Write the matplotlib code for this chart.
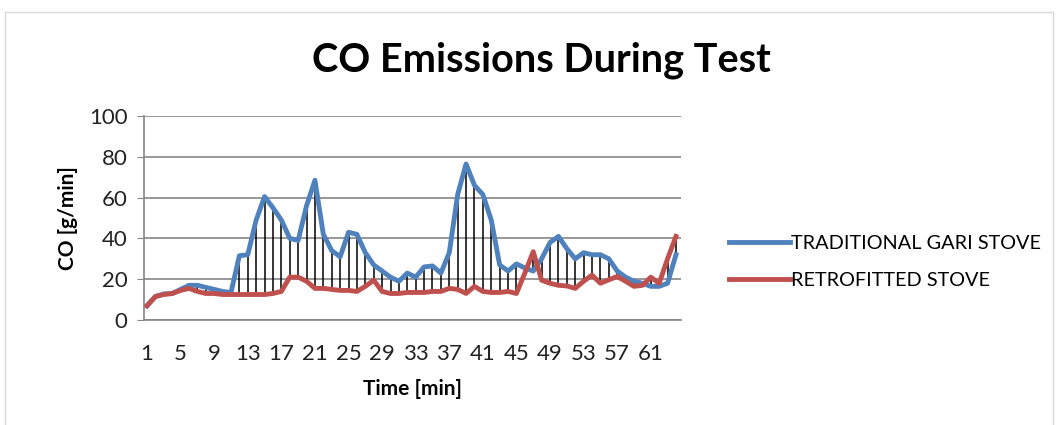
import numpy as np
import matplotlib
matplotlib.use('Agg')
import matplotlib.pyplot as plt
from matplotlib.patches import Rectangle

plt.rcParams['font.family'] = ['Lato', 'DejaVu Sans']

# minutes 1..64
minutos = np.arange(1, 65)

tradicional = [7, 11.5, 12.8, 13, 15, 17, 17, 16, 15, 14, 13.5,
               31.5, 32, 49, 60.5, 55, 49, 40, 39, 56, 68.5,
               42, 34, 31, 43, 42, 33, 27, 24, 21, 19, 23,
               21, 26, 26.5, 23, 33, 61.5, 76.5, 66, 61.5, 49,
               27, 24, 27.5, 25.5, 24, 30, 38, 41,
               35, 30, 33, 32, 32, 30, 24, 21, 19, 18, 16.5, 16.5, 18, 32]

mejorada = [7, 11.5, 12.5, 13, 14.5, 15.5, 14, 13, 13, 12.5, 12.5,
            12.5, 12.5, 12.5, 12.5, 13, 14, 21, 21, 19, 15.5,
            15.5, 15, 14.5, 14.5, 14, 16.5, 19.5, 14, 13, 13, 13.5,
            13.5, 13.5, 14, 14, 15.5, 15, 13, 16.5, 14, 13.5,
            13.5, 14, 13, 23, 33.5, 19.5, 18, 17,
            16.7, 15.5, 19, 22, 18, 19.7, 21.3, 19, 16.5, 17, 21, 18, 30, 41]

etiquetas = ['TRADITIONAL GARI STOVE', 'RETROFITTED STOVE']
titulo = 'CO Emissions During Test'

fig = plt.figure(figsize=(10.59, 4.25), dpi=100)
ax = fig.add_axes([144/1059, 1-320/425, (681-144)/1059, (320-116)/425])

# marco claro alrededor del grafico
fig.patches.append(Rectangle((5/1059, -0.05), 1048/1059, 1.05-12/425,
                             transform=fig.transFigure, fill=False,
                             edgecolor='#d9d9d9', lw=1))

T = np.array(tradicional)
M = np.array(mejorada)
ax.vlines(minutos, np.minimum(T, M), np.maximum(T, M), color='black', lw=1.1, zorder=2)
ax.plot(minutos, T, color='#4F81BD', lw=3.5, label=etiquetas[0], zorder=3, solid_joinstyle='round')
ax.plot(minutos, M, color='#C0504D', lw=3.5, label=etiquetas[1], zorder=3, solid_joinstyle='round')

ax.set_ylim(0, 100)
ax.set_xlim(0.64, 64.6)
ax.set_yticks(range(0, 101, 20))
ax.set_xticks(minutos[::4])
ax.yaxis.grid(True, color='#868686', lw=1.2)
ax.set_axisbelow(True)
for s in ['top', 'right']:
    ax.spines[s].set_visible(False)
ax.spines['left'].set_color('#868686')
ax.spines['bottom'].set_color('#868686')
ax.spines['left'].set_linewidth(1.2)
ax.spines['bottom'].set_linewidth(1.2)
ax.tick_params(axis='y', length=5, color='#868686', labelsize=16, pad=7, labelcolor='#222222')
ax.tick_params(axis='x', length=0, labelsize=16, pad=17, labelcolor='#222222')

ax.set_xlabel('Time [min]', fontsize=15, fontweight='bold', labelpad=11)
ax.set_ylabel('CO [g/min]', fontsize=15, fontweight='bold', labelpad=8)
fig.text(541/1059, 1-60/425, titulo, fontsize=28.5, fontweight='bold', ha='center', va='center')

ax.legend(loc='center left', bbox_to_anchor=(711/1059, 1-262/425),
          bbox_transform=fig.transFigure, frameon=False, fontsize=14.3,
          handlelength=3.1, handletextpad=0.05, labelspacing=1.05)

fig.savefig('out.png', dpi=100)
